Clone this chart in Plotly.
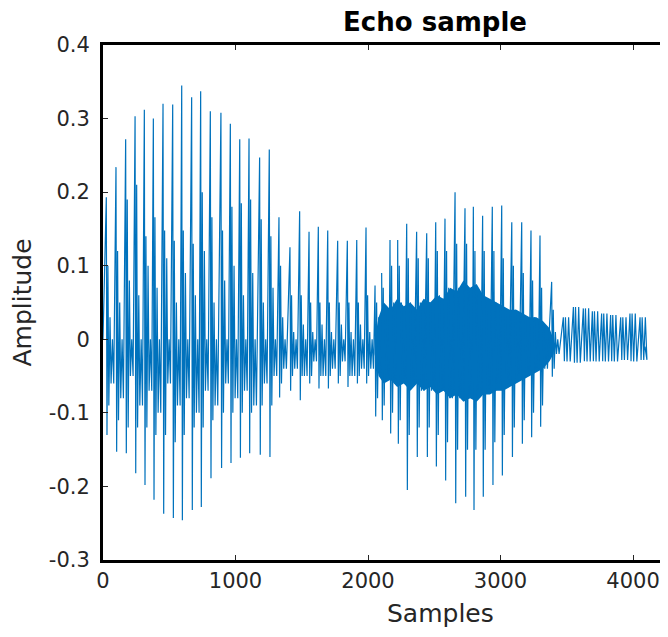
import plotly.graph_objects as go

# ---- data ----
pulse_x = [25, 98, 171, 242, 312, 380, 453, 526, 594, 669, 737, 810, 890, 961, 1032, 1102,
           1182, 1255, 1328, 1411, 1484, 1555, 1625, 1696, 1771, 1844, 1915, 1985, 2053, 2103,
           2166, 2224, 2292, 2367, 2443, 2511, 2581, 2657, 2732, 2795, 2865, 2938, 3009, 3085,
           3160, 3230, 3298, 3386]
pulse_hi = [0.193, 0.234, 0.272, 0.303, 0.312, 0.300, 0.320, 0.319, 0.345, 0.329, 0.337, 0.310,
            0.308, 0.293, 0.272, 0.273, 0.247, 0.258, 0.166, 0.125, 0.174, 0.146, 0.153, 0.148,
            0.134, 0.134, 0.135, 0.152, 0.073, 0.090, 0.135, 0.135, 0.157, 0.146, 0.144, 0.159,
            0.164, 0.200, 0.178, 0.180, 0.168, 0.180, 0.182, 0.159, 0.159, 0.148, 0.141, 0.078]
pulse_lo = [-0.130, -0.153, -0.155, -0.182, -0.198, -0.218, -0.237, -0.243, -0.246, -0.232,
            -0.228, -0.189, -0.175, -0.168, -0.161, -0.155, -0.157, -0.160, -0.079, -0.070,
            -0.083, -0.060, -0.067, -0.067, -0.060, -0.065, -0.060, -0.060, -0.105, -0.110,
            -0.128, -0.142, -0.205, -0.160, -0.160, -0.173, -0.192, -0.223, -0.214, -0.232,
            -0.214, -0.198, -0.185, -0.160, -0.142, -0.133, -0.119, -0.051]
sub_hi = [0.10, 0.12, 0.19, 0.21, 0.14, 0.166, 0.148, 0.134, 0.148, 0.13, 0.20, 0.166, 0.148,
          0.18, 0.185, 0.19, 0.163, 0.14, 0.10, 0.06, 0.06, 0.05, 0.05, 0.05, 0.05, 0.05, 0.05,
          0.06, 0.05, 0.07, 0.10, 0.10, 0.11, 0.11, 0.11, 0.12, 0.12, 0.13, 0.13, 0.12, 0.12,
          0.12, 0.11, 0.10, 0.09, 0.08, 0.07, 0.04]
sub_lo = [-0.09, -0.11, -0.12, -0.12, -0.12, -0.13, -0.13, -0.14, -0.13, -0.12, -0.12, -0.11,
          -0.10, -0.10, -0.10, -0.10, -0.09, -0.09, -0.06, -0.05, -0.05, -0.05, -0.05, -0.05,
          -0.05, -0.05, -0.05, -0.05, -0.08, -0.09, -0.10, -0.11, -0.13, -0.12, -0.12, -0.13,
          -0.14, -0.15, -0.15, -0.15, -0.15, -0.14, -0.13, -0.12, -0.11, -0.10, -0.09, -0.04]
ripple_hi = [0.03, 0.05, 0.08, 0.06, 0.10, 0.07, 0.11, 0.05, 0.09, 0.06, 0.12, 0.05, 0.08,
             0.10, 0.06, 0.09, 0.05, 0.07, 0.03, 0.01, 0.02, 0.01, 0.02, 0.01, 0.02, 0.01,
             0.02, 0.01, 0.03, 0.04, 0.05, 0.05, 0.05, 0.05, 0.05, 0.06, 0.07, 0.07, 0.07,
             0.06, 0.05, 0.05, 0.04, 0.04, 0.03, 0.03, 0.02, 0.01]
ripple_lo = [-0.06, -0.08, -0.05, -0.09, -0.07, -0.10, -0.06, -0.09, -0.08, -0.10, -0.07,
             -0.09, -0.06, -0.08, -0.07, -0.09, -0.06, -0.05, -0.04, -0.04, -0.05, -0.03,
             -0.05, -0.04, -0.03, -0.05, -0.04, -0.04, -0.05, -0.05, -0.06, -0.06, -0.06,
             -0.07, -0.07, -0.07, -0.08, -0.08, -0.08, -0.07, -0.07, -0.06, -0.06, -0.05,
             -0.05, -0.04, -0.04, -0.02]

tail_x = [3474, 3550, 3625, 3693, 3763, 3831, 3907, 3977, 4053]
tail_hi = [0.030, 0.044, 0.042, 0.038, 0.035, 0.033, 0.030, 0.035, 0.030]
tail_lo = [-0.030, -0.032, -0.030, -0.030, -0.030, -0.030, -0.028, -0.030, -0.028]
tail_end = (4090, -0.010)

blob_x = [2050, 2080, 2120, 2170, 2220, 2270, 2320, 2370, 2420, 2470, 2520, 2570, 2620, 2670,
          2720, 2770, 2820, 2870, 2920, 2970, 3020, 3070, 3120, 3170, 3220, 3270, 3320, 3370, 3400]
blob_top = [0.00, 0.03, 0.05, 0.04, 0.055, 0.045, 0.05, 0.04, 0.055, 0.05, 0.06, 0.055, 0.07,
            0.065, 0.08, 0.07, 0.075, 0.06, 0.055, 0.05, 0.045, 0.04, 0.04, 0.035, 0.03, 0.03,
            0.025, 0.015, 0.0]
blob_bot = [-0.02, -0.05, -0.06, -0.055, -0.065, -0.06, -0.07, -0.06, -0.07, -0.065, -0.075,
            -0.07, -0.08, -0.075, -0.085, -0.08, -0.085, -0.075, -0.075, -0.07, -0.07, -0.065,
            -0.06, -0.055, -0.05, -0.045, -0.04, -0.03, -0.02]

x_ticks = [0, 1000, 2000, 3000, 4000]
y_ticks = [0.4, 0.3, 0.2, 0.1, 0, -0.1, -0.2, -0.3]
y_labels = ["0.4", "0.3", "0.2", "0.1", "0", "-0.1", "-0.2", "-0.3"]

# ---- build the waveform polyline from the read pulses ----
wx, wy = [0], [0.0]
for px, hi, lo, sh, sl, rh, rl in zip(pulse_x, pulse_hi, pulse_lo, sub_hi, sub_lo, ripple_hi, ripple_lo):
    wx += [px, px + 5, px + 12, px + 19, px + 28, px + 36, px + 46, px + 56]
    wy += [hi, lo, sh, sl, rh, rl, 0.0, rl]
for tx, th, tl in zip(tail_x, tail_hi, tail_lo):
    wx += [tx, tx + 8, tx + 16, tx + 28, tx + 40, tx + 52]
    wy += [th, tl, th, tl, th, tl]
wx.append(tail_end[0]); wy.append(tail_end[1])

BLUE = "#0072BD"
fig = go.Figure()
fig.add_trace(go.Scatter(x=blob_x + blob_x[::-1], y=blob_top + blob_bot[::-1], fill="toself",
                         fillcolor=BLUE, line=dict(width=0), mode="lines", hoverinfo="skip"))
fig.add_trace(go.Scatter(x=wx, y=wy, mode="lines", line=dict(color=BLUE, width=1.2)))

# the page body has an 8px margin: figure is 8px smaller so the plot lands where the reference has it
W, H, OFF = 660, 629, 8
L, T, B = 103 - OFF, 45 - OFF, 560 - OFF
FONT = "DejaVu Sans"
fig.update_layout(
    width=W, height=H, showlegend=False,
    paper_bgcolor="white", plot_bgcolor="white",
    margin=dict(l=L, r=0, t=T, b=H - B),
    font=dict(family=FONT, size=21, color="#262626"),
    title=dict(text="<b>Echo sample</b>", x=(435 - OFF) / W, xref="container", xanchor="center",
               y=1 - (22 - OFF) / H, yref="container", yanchor="middle",
               font=dict(family=FONT, size=26, color="black")),
)
fig.update_xaxes(range=[0, 4264], tickvals=x_ticks, ticktext=[str(v) for v in x_ticks],
                 showgrid=False, zeroline=False, showline=True, linecolor="black", linewidth=3,
                 mirror="ticks", ticks="inside", ticklen=5, tickcolor="#262626", tickwidth=1)
fig.update_yaxes(range=[-0.3, 0.4], tickvals=y_ticks, ticktext=y_labels,
                 showgrid=False, zeroline=False, showline=True, linecolor="black", linewidth=3,
                 ticks="inside", ticklen=5, tickcolor="#262626", tickwidth=1, ticklabelstandoff=6)
PW, PH = W - L, B - T
fig.add_annotation(text="Samples", x=(440 - 103) / PW, y=-(613 - 560) / PH, xref="paper",
                   yref="paper", showarrow=False, xanchor="center", yanchor="middle",
                   font=dict(family=FONT, size=25, color="#262626"))
fig.add_annotation(text="Amplitude", x=(22 - 103) / PW, y=0.5, xref="paper", yref="paper",
                   showarrow=False, textangle=-90, xanchor="center", yanchor="middle",
                   font=dict(family=FONT, size=25, color="#262626"))
fig.write_html("out.html")
